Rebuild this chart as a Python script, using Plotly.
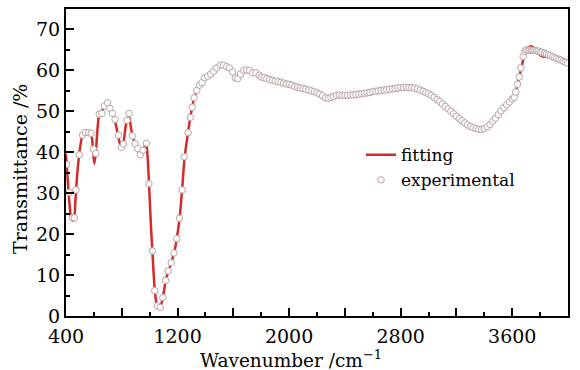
import plotly.graph_objects as go

# Experimental data (wavenumber, transmittance)
exp_wn = [405, 424, 445, 460, 471, 495, 519, 538, 562, 581, 595, 614, 638, 657, 676, 698,
          714, 733, 752, 776, 798, 812, 838, 852, 876, 895, 914, 933, 952, 976, 995, 1019,
          1036, 1055, 1076, 1095, 1114, 1133, 1155, 1174, 1195, 1214, 1233, 1248, 1276, 1291,
          1305, 1319, 1338, 1357, 1376, 1395, 1416, 1438, 1459, 1481, 1507, 1529, 1552, 1571,
          1595, 1614, 1631, 1652, 1674, 1695, 1716, 1738, 1762, 1786,
          1800, 1820, 1840, 1860, 1880, 1900, 1920, 1940, 1960, 1980, 2000, 2020, 2040, 2060,
          2080, 2100, 2120, 2140, 2160, 2180, 2200, 2220, 2240, 2260, 2280, 2300, 2320, 2340,
          2360, 2380, 2400, 2420, 2440, 2460, 2480, 2500, 2520, 2540, 2560, 2580, 2600, 2620,
          2640, 2660, 2680, 2700, 2720, 2740, 2760, 2780, 2800, 2820, 2840, 2860, 2880, 2900,
          2920, 2940, 2960, 2980, 3000, 3020, 3040, 3060, 3080, 3100, 3120, 3140, 3160, 3180,
          3200, 3220, 3240, 3260, 3280, 3300, 3320, 3340, 3360, 3380, 3400, 3420, 3440, 3460,
          3480, 3500, 3520, 3540, 3560, 3580, 3600, 3615, 3625, 3638, 3650, 3662, 3678, 3690,
          3700, 3714, 3726, 3738, 3750, 3762, 3774, 3786, 3800, 3814, 3830, 3845, 3860, 3875,
          3890, 3905, 3920, 3935, 3950, 3965, 3980, 3995]
exp_t = [37.0, 30.2, 24.0, 24.0, 30.8, 39.4, 44.2, 44.8, 44.8, 44.6, 40.8, 39.7, 49.3, 49.5, 51.3, 52.1,
         50.7, 49.5, 48.0, 44.2, 41.2, 42.0, 47.8, 49.5, 44.0, 42.1, 40.9, 39.4, 40.5, 42.2, 32.3, 15.9,
         6.2, 2.5, 2.1, 4.5, 8.7, 11.0, 13.0, 15.4, 18.9, 23.9, 30.8, 38.9, 44.8, 48.5,
         51.0, 53.3, 55.1, 56.4, 57.0, 58.2, 58.6, 59.1, 59.8, 60.6, 61.3, 61.3, 60.9, 60.6,
         59.6, 58.2, 58.0, 59.1, 60.0, 60.1, 60.0, 59.4, 59.4, 58.8,
         58.4, 58.2, 58.0, 57.8, 57.6, 57.4, 57.3, 57.1, 56.9, 56.7, 56.6, 56.4, 56.1, 55.9,
         55.7, 55.6, 55.4, 55.2, 55.0, 54.8, 54.5, 54.2, 53.8, 53.3, 53.2, 53.4, 53.6, 53.9,
         54.0, 53.9, 53.9, 53.9, 54.0, 54.0, 54.1, 54.2, 54.3, 54.4, 54.5, 54.6, 54.8, 54.9,
         55.0, 55.1, 55.2, 55.3, 55.4, 55.5, 55.6, 55.7, 55.8, 55.8, 55.9, 55.8, 55.8, 55.7,
         55.5, 55.2, 54.9, 54.6, 54.3, 53.9, 53.4, 52.9, 52.4, 51.8, 51.2, 50.6, 50.0, 49.4,
         48.8, 48.2, 47.7, 47.2, 46.7, 46.3, 46.0, 45.8, 45.6, 45.6, 45.8, 46.2, 46.8, 47.6,
         48.3, 49.2, 50.1, 50.9, 51.6, 52.3, 53.0, 53.4, 54.7, 56.6, 58.4, 60.6, 63.4, 64.6,
         65.0, 64.9, 65.0, 64.9, 64.9, 64.9, 64.8, 64.7, 64.5, 64.4, 64.2, 64.0, 63.8, 63.6,
         63.3, 63.1, 62.9, 62.7, 62.5, 62.2, 62.0, 61.8]

# Fitting curve (key points, smoothed by spline)
fit_wn = [400, 412, 425, 440, 455, 468, 480, 495, 515, 535, 560, 580, 592, 603, 615, 628, 640,
          660, 680, 695, 715, 735, 752, 775, 795, 812, 830, 850, 870, 895, 915, 933, 955, 975,
          985, 995, 1010, 1020, 1035, 1050, 1062, 1078, 1095, 1115, 1135, 1155, 1175, 1195,
          1215, 1233, 1250, 1275, 1300, 1320, 1340, 1360, 1395, 1440, 1480, 1515, 1540, 1570,
          1595, 1615, 1632, 1652, 1680, 1715, 1760, 1800, 1850, 1900, 1950, 2000, 2050, 2100,
          2150, 2200, 2240, 2270, 2300, 2350, 2400, 2500, 2600, 2700, 2800, 2850, 2900, 2950,
          3000, 3050, 3100, 3150, 3200, 3250, 3300, 3350, 3400, 3440, 3480, 3520, 3560, 3600,
          3630, 3660, 3690, 3715, 3738, 3760, 3790, 3820, 3850, 3880, 3920, 3960, 4000]
fit_t = [39.5, 33.5, 27.5, 23.6, 23.4, 28.5, 34.5, 39.5, 43.8, 45.0, 45.2, 44.5, 41.5, 37.2, 40.5, 46.5, 49.5,
         50.2, 51.5, 51.8, 50.5, 49.2, 47.6, 43.8, 41.3, 42.4, 46.8, 49.0, 45.2, 42.0, 40.8, 39.6, 40.8, 42.0,
         39.0, 32.5, 21.5, 15.5, 7.0, 2.8, 1.9, 2.4, 4.6, 8.6, 11.0, 13.0, 15.4, 19.0,
         24.0, 31.0, 38.5, 44.8, 50.2, 53.3, 55.2, 56.5, 58.1, 59.2, 60.6, 61.4, 61.2, 60.6,
         59.6, 58.3, 58.0, 59.0, 60.1, 60.0, 59.4, 58.4, 57.9, 57.4, 57.0, 56.6, 56.0, 55.6,
         55.1, 54.5, 53.8, 53.2, 53.4, 53.9, 53.9, 54.2, 54.8, 55.3, 55.8, 55.9, 55.7, 55.1,
         54.3, 53.1, 51.8, 50.3, 48.8, 47.4, 46.3, 45.7, 45.6, 46.3, 47.8, 49.6, 51.3, 53.0,
         55.5, 59.8, 64.0, 65.6, 65.9, 65.2, 64.0, 63.4, 63.3, 63.3, 62.8, 62.2, 61.8]

FONT = "DejaVu Serif"
W, H = 580, 370
L, R, T, B = 66, 12, 7, 54
pw, ph = W - L - R, H - T - B

fig = go.Figure()
fig.add_trace(go.Scatter(x=fit_wn, y=fit_t, mode="lines", name="fitting",
                         line=dict(color="#d42a2a", width=2.5, shape="spline", smoothing=0.8)))
fig.add_trace(go.Scatter(x=exp_wn, y=exp_t, mode="markers", name="experimental",
                         marker=dict(symbol="circle", size=6.5, color="white",
                                     line=dict(color="#b8a4a4", width=1))))

axis_common = dict(showgrid=False, zeroline=False, showline=True, linecolor="black",
                   linewidth=2, mirror=True, ticks="inside", ticklen=8, tickwidth=1.5,
                   tickcolor="black", tickfont=dict(family=FONT, size=19, color="black"))

fig.update_xaxes(range=[400, 4000], tickmode="linear", tick0=400, dtick=400, ticklabelstep=2,
                 ticklabelstandoff=2,
                 minor=dict(tick0=400, dtick=200, ticks="inside", ticklen=4,
                            tickwidth=1.5, tickcolor="black"),
                 **axis_common)
fig.update_yaxes(range=[0, 75], tickmode="linear", tick0=0, dtick=10,
                 minor=dict(tick0=0, dtick=5, ticks="inside", ticklen=4,
                            tickwidth=1.5, tickcolor="black"),
                 **axis_common)

fig.update_layout(
    width=W, height=H,
    margin=dict(l=L, r=R, t=T, b=B),
    paper_bgcolor="white", plot_bgcolor="white",
    showlegend=True,
    legend=dict(x=(361 - L) / pw, y=(316 - 136) / ph, xanchor="left", yanchor="top",
                bgcolor="rgba(0,0,0,0)", font=dict(family=FONT, size=17, color="black"),
                tracegroupgap=0, itemwidth=30),
    annotations=[
        dict(text="Wavenumber /cm<sup>−1</sup>", xref="paper", yref="paper",
             x=(291 - L) / pw, y=(316 - 359) / ph, xanchor="center", yanchor="middle",
             showarrow=False, font=dict(family=FONT, size=18.5, color="black")),
        dict(text="Transmittance /%", xref="paper", yref="paper", textangle=-90,
             x=(20 - L) / pw, y=(316 - 168) / ph, xanchor="center", yanchor="middle",
             showarrow=False, font=dict(family=FONT, size=19, color="black")),
    ],
)

fig.write_html("out.html")
